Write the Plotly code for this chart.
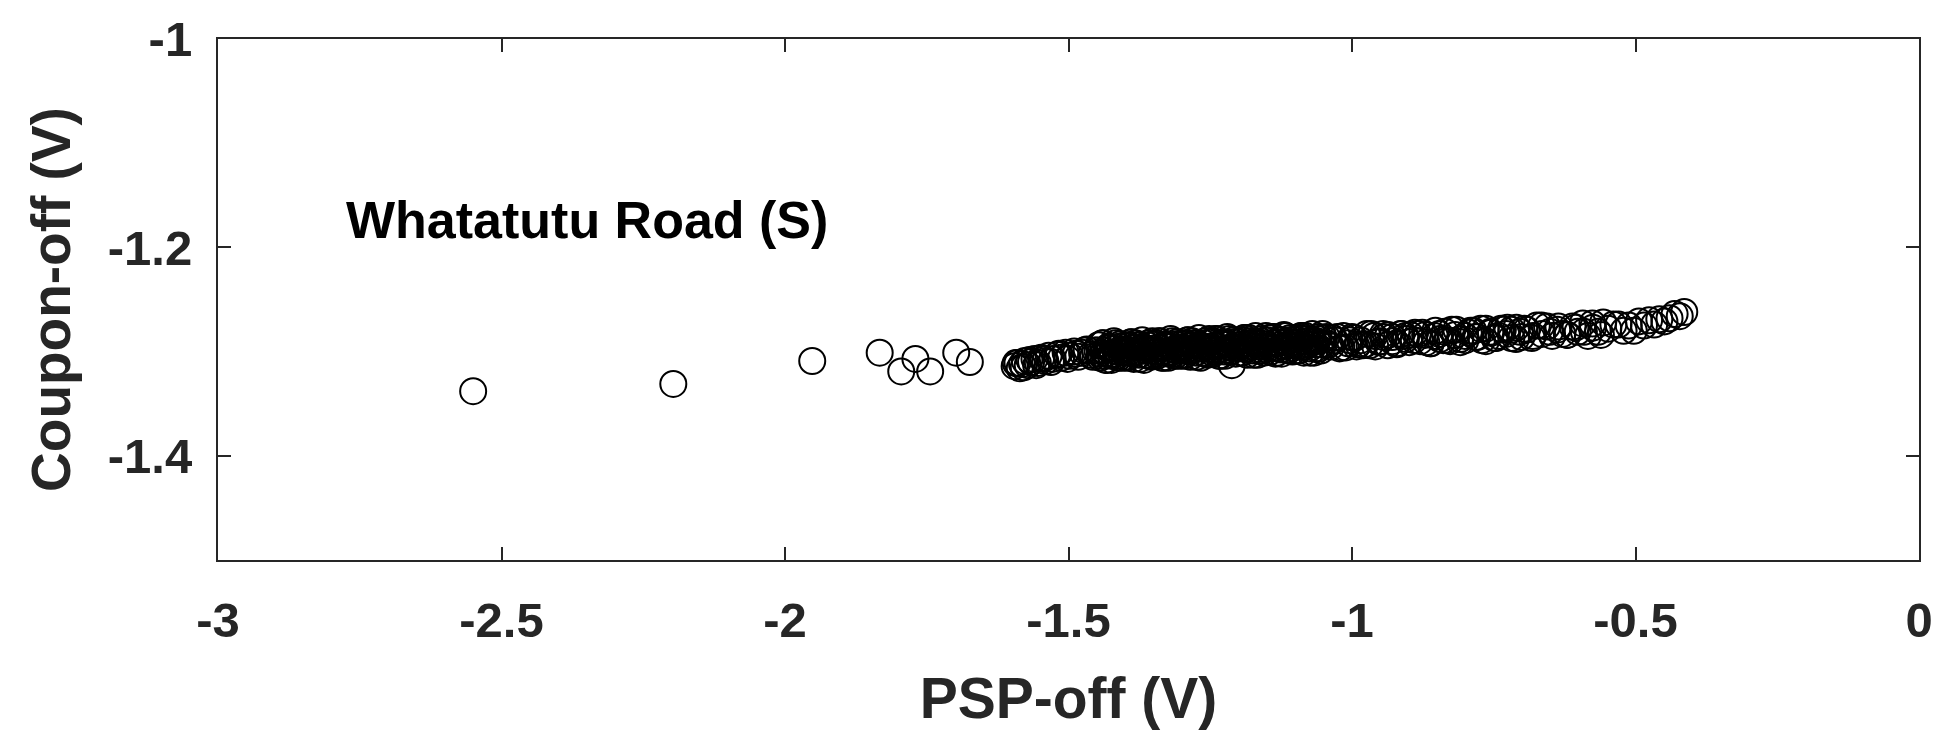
import plotly.graph_objects as go

# ---- data ----
outlier_psp = [-2.550, -2.197, -1.952, -1.833, -1.795, -1.770, -1.744, -1.698, -1.674]
outlier_coupon = [-1.338, -1.331, -1.309, -1.301, -1.319, -1.307, -1.319, -1.301, -1.310]

left_psp = [-1.595, -1.590, -1.586, -1.582, -1.577, -1.572, -1.566, -1.560, -1.554, -1.548,
            -1.541, -1.535, -1.528, -1.520, -1.513, -1.505, -1.498, -1.490, -1.483, -1.476,
            -1.468, -1.460, -1.453,
            -1.593, -1.579, -1.569, -1.557, -1.544, -1.531, -1.517, -1.502, -1.487, -1.472,
            -1.457]
left_coupon = [-1.314, -1.311, -1.316, -1.312, -1.309, -1.313, -1.310, -1.307, -1.311, -1.306,
               -1.309, -1.304, -1.307, -1.303, -1.306, -1.301, -1.304, -1.300, -1.305, -1.301,
               -1.298, -1.303, -1.299,
               -1.311, -1.315, -1.308, -1.313, -1.307, -1.310, -1.302, -1.307, -1.302, -1.299,
               -1.305]

mid_psp = [-1.447, -1.442, -1.437, -1.432, -1.427, -1.422, -1.417, -1.412, -1.407, -1.402,
           -1.397, -1.392, -1.387, -1.382, -1.377, -1.372, -1.367, -1.362, -1.357, -1.352,
           -1.347, -1.342, -1.337, -1.332, -1.327, -1.322, -1.317, -1.312, -1.307, -1.302,
           -1.297, -1.292, -1.287, -1.282, -1.277, -1.272, -1.267, -1.262, -1.257, -1.252,
           -1.247, -1.242, -1.237, -1.232, -1.227, -1.222, -1.217, -1.212, -1.207, -1.202,
           -1.197, -1.192, -1.187, -1.182, -1.177, -1.172, -1.167, -1.162, -1.157, -1.152,
           -1.147, -1.142, -1.137, -1.132, -1.127, -1.122, -1.117, -1.112, -1.107, -1.102,
           -1.097, -1.092, -1.087, -1.082, -1.077, -1.072, -1.067, -1.062, -1.057, -1.052]
mid_coupon = [-1.294, -1.304, -1.299, -1.308, -1.296, -1.302, -1.292, -1.306, -1.298, -1.301,
              -1.306, -1.294, -1.302, -1.292, -1.300, -1.296, -1.308, -1.297, -1.304, -1.290,
              -1.292, -1.302, -1.297, -1.306, -1.294, -1.300, -1.290, -1.304, -1.296, -1.299,
              -1.304, -1.292, -1.300, -1.290, -1.298, -1.294, -1.306, -1.295, -1.302, -1.288,
              -1.290, -1.300, -1.295, -1.304, -1.292, -1.298, -1.288, -1.313, -1.294, -1.297,
              -1.301, -1.289, -1.297, -1.287, -1.295, -1.291, -1.303, -1.292, -1.299, -1.285,
              -1.287, -1.297, -1.292, -1.301, -1.289, -1.295, -1.285, -1.299, -1.291, -1.294,
              -1.299, -1.287, -1.295, -1.285, -1.293, -1.289, -1.301, -1.290, -1.297, -1.283]

mid2_psp = [-1.445, -1.440, -1.435, -1.430, -1.425, -1.420, -1.415, -1.410, -1.405, -1.400,
            -1.395, -1.390, -1.385, -1.380, -1.375, -1.370, -1.365, -1.360, -1.355, -1.350,
            -1.345, -1.340, -1.335, -1.330, -1.325, -1.320, -1.315, -1.310, -1.305, -1.300,
            -1.295, -1.290, -1.285, -1.280, -1.275, -1.270, -1.265, -1.260, -1.255, -1.250,
            -1.245, -1.240, -1.235, -1.230, -1.225, -1.220, -1.215, -1.210, -1.205, -1.200,
            -1.195, -1.190, -1.185, -1.180, -1.175, -1.170, -1.165, -1.160, -1.155, -1.150,
            -1.145, -1.140, -1.135, -1.130, -1.125, -1.120, -1.115, -1.110, -1.105, -1.100,
            -1.095, -1.090, -1.085, -1.080, -1.075, -1.070, -1.065, -1.060, -1.055, -1.050]
mid2_coupon = [-1.302, -1.292, -1.308, -1.297, -1.304, -1.290, -1.300, -1.295, -1.306, -1.294,
               -1.301, -1.291, -1.307, -1.296, -1.303, -1.289, -1.299, -1.294, -1.305, -1.293,
               -1.300, -1.290, -1.306, -1.295, -1.302, -1.288, -1.298, -1.293, -1.304, -1.292,
               -1.299, -1.289, -1.305, -1.294, -1.301, -1.287, -1.297, -1.292, -1.303, -1.291,
               -1.298, -1.288, -1.304, -1.293, -1.300, -1.286, -1.296, -1.291, -1.302, -1.290,
               -1.297, -1.287, -1.303, -1.292, -1.299, -1.285, -1.295, -1.290, -1.301, -1.289,
               -1.296, -1.286, -1.302, -1.291, -1.298, -1.284, -1.294, -1.289, -1.300, -1.288,
               -1.295, -1.285, -1.301, -1.290, -1.297, -1.283, -1.293, -1.288, -1.299, -1.287]

mid3_psp = [-1.449, -1.444, -1.439, -1.434, -1.429, -1.424, -1.419, -1.414, -1.409, -1.404,
            -1.399, -1.394, -1.389, -1.384, -1.379, -1.374, -1.369, -1.364, -1.359, -1.354,
            -1.349, -1.344, -1.339, -1.334, -1.329, -1.324, -1.319, -1.314, -1.309, -1.304,
            -1.299, -1.294, -1.289, -1.284, -1.279, -1.274, -1.269, -1.264, -1.259, -1.254,
            -1.249, -1.244, -1.239, -1.234, -1.229, -1.224, -1.219, -1.214, -1.209, -1.204,
            -1.199, -1.194, -1.189, -1.184, -1.179, -1.174, -1.169, -1.164, -1.159, -1.154,
            -1.149, -1.144, -1.139, -1.134, -1.129, -1.124, -1.119, -1.114, -1.109, -1.104,
            -1.099, -1.094, -1.089, -1.084, -1.079, -1.074, -1.069, -1.064, -1.059, -1.054]
mid3_coupon = [-1.299, -1.306, -1.292, -1.302, -1.295, -1.308, -1.297, -1.304, -1.293, -1.300,
               -1.298, -1.305, -1.291, -1.301, -1.294, -1.307, -1.296, -1.303, -1.292, -1.299,
               -1.297, -1.304, -1.290, -1.300, -1.293, -1.306, -1.295, -1.302, -1.291, -1.298,
               -1.296, -1.303, -1.289, -1.299, -1.292, -1.305, -1.294, -1.301, -1.290, -1.297,
               -1.295, -1.302, -1.288, -1.298, -1.291, -1.304, -1.293, -1.300, -1.289, -1.296,
               -1.294, -1.301, -1.287, -1.297, -1.290, -1.303, -1.292, -1.299, -1.288, -1.295,
               -1.293, -1.300, -1.286, -1.296, -1.289, -1.302, -1.291, -1.298, -1.287, -1.294,
               -1.292, -1.299, -1.285, -1.295, -1.288, -1.301, -1.290, -1.297, -1.286, -1.293]

right_psp = [-1.045, -1.037, -1.030, -1.022, -1.015, -1.007, -1.000, -0.992, -0.985, -0.977,
             -0.969, -0.961, -0.953, -0.945, -0.937, -0.929, -0.921, -0.913, -0.905, -0.897,
             -0.889, -0.880, -0.871, -0.862, -0.853, -0.845, -0.836, -0.827, -0.818, -0.809,
             -0.800, -0.791, -0.782, -0.773, -0.764, -0.755, -0.746, -0.737, -0.728, -0.719,
             -0.710, -0.701, -0.692, -0.683, -0.674, -0.665, -0.656, -0.647, -0.638, -0.629,
             -0.620, -0.611, -0.602, -0.593, -0.584, -0.575, -0.566, -0.557, -0.548, -0.539,
             -0.530, -0.521, -0.512, -0.503, -0.494, -0.485, -0.476, -0.467, -0.458, -0.449,
             -0.440, -0.431, -0.422, -0.414]
right_coupon = [-1.286, -1.295, -1.289, -1.297, -1.285, -1.292, -1.286, -1.295, -1.289, -1.293,
                -1.294, -1.285, -1.291, -1.283, -1.294, -1.286, -1.292, -1.283, -1.288, -1.284,
                -1.282, -1.290, -1.284, -1.292, -1.280, -1.288, -1.281, -1.290, -1.284, -1.288,
                -1.289, -1.280, -1.286, -1.278, -1.290, -1.282, -1.287, -1.278, -1.283, -1.279,
                -1.277, -1.286, -1.279, -1.287, -1.275, -1.283, -1.276, -1.285, -1.279, -1.283,
                -1.284, -1.276, -1.281, -1.273, -1.285, -1.277, -1.281, -1.272, -1.278, -1.274,
                -1.274, -1.280, -1.275, -1.280, -1.271, -1.275, -1.270, -1.274, -1.269, -1.271,
                -1.268, -1.264, -1.266, -1.262]

right2_psp = [-1.041, -1.026, -1.011, -0.996, -0.981, -0.966, -0.951, -0.936, -0.921, -0.906,
              -0.891, -0.876, -0.861, -0.846, -0.831, -0.816, -0.801, -0.786, -0.771, -0.756,
              -0.741, -0.726, -0.711, -0.696, -0.681, -0.666, -0.651, -0.636, -0.621, -0.606,
              -0.591, -0.576, -0.561]
right2_coupon = [-1.293, -1.286, -1.296, -1.287, -1.294, -1.283, -1.290, -1.284, -1.293, -1.285,
                 -1.289, -1.282, -1.292, -1.283, -1.289, -1.279, -1.285, -1.280, -1.289, -1.281,
                 -1.285, -1.277, -1.288, -1.278, -1.285, -1.275, -1.281, -1.276, -1.284, -1.277,
                 -1.281, -1.273, -1.284]

right3_psp = [-1.034, -1.019, -1.004, -0.989, -0.974, -0.959, -0.944, -0.929, -0.914, -0.899,
              -0.884, -0.869, -0.854, -0.839, -0.824, -0.809, -0.794, -0.779, -0.764, -0.749,
              -0.734, -0.719, -0.704]
right3_coupon = [-1.287, -1.296, -1.289, -1.293, -1.283, -1.295, -1.286, -1.290, -1.283, -1.291,
                 -1.283, -1.291, -1.285, -1.289, -1.279, -1.291, -1.282, -1.286, -1.278, -1.287,
                 -1.279, -1.287, -1.281]

x_tick_vals = [-3, -2.5, -2, -1.5, -1, -0.5, 0]
x_tick_text = ["-3", "-2.5", "-2", "-1.5", "-1", "-0.5", "0"]
y_tick_vals = [-1.4, -1.2, -1]
y_tick_text = ["-1.4", "-1.2", "-1"]

site_label = "Whatatutu Road (S)"
x_title = "PSP-off (V)"
y_title = "Coupon-off (V)"

# ---- figure ----
psp_all = (outlier_psp + left_psp + mid_psp + mid2_psp + mid3_psp
           + right_psp + right2_psp + right3_psp)
coupon_all = (outlier_coupon + left_coupon + mid_coupon + mid2_coupon + mid3_coupon
              + right_coupon + right2_coupon + right3_coupon)

AX = "#262626"
FONT = "Liberation Sans, Arial, sans-serif"

fig = go.Figure()
fig.add_trace(go.Scatter(
    x=psp_all, y=coupon_all, mode="markers",
    marker=dict(symbol="circle-open", size=26, color="black", line=dict(width=2)),
    showlegend=False,
))

axis_common = dict(
    showline=True, linecolor=AX, linewidth=2, mirror="ticks",
    ticks="inside", ticklen=13, tickwidth=1.5, tickcolor=AX,
    showgrid=False, zeroline=False,
    tickfont=dict(family=FONT, size=49, color=AX, weight="bold"),
)

fig.update_xaxes(
    range=[-3, 0], tickvals=x_tick_vals, ticktext=x_tick_text,
    ticklabelstandoff=16,
    title=dict(text=x_title, font=dict(family=FONT, size=57, color=AX, weight="bold"), standoff=32),
    **axis_common,
)
fig.update_yaxes(
    range=[-1.5, -1], tickvals=y_tick_vals, ticktext=y_tick_text,
    ticklabelstandoff=14,
    title=dict(text=y_title, font=dict(family=FONT, size=55, color=AX, weight="bold"), standoff=20),
    **axis_common,
)

fig.add_annotation(
    x=-2.777, y=-1.174, xref="x", yref="y", text=site_label, showarrow=False,
    xanchor="left", yanchor="middle",
    font=dict(family=FONT, size=52, color="black", weight="bold"),
)

fig.update_layout(
    width=1945, height=731,
    margin=dict(l=218, r=15, t=38, b=170),
    paper_bgcolor="white", plot_bgcolor="white",
)

fig.write_html("out.html")
